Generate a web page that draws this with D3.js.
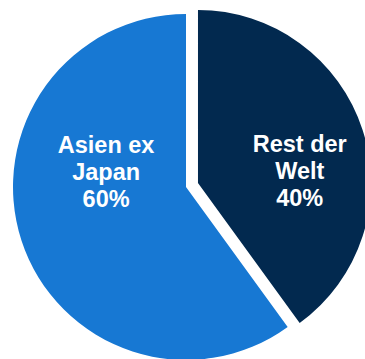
<!DOCTYPE html>
<html>
<head>
<meta charset="utf-8">
<script src="https://cdn.jsdelivr.net/npm/d3@7/dist/d3.min.js"></script>
<style>
  html, body { margin: 0; padding: 0; background: #ffffff; }
  svg { display: block; }
</style>
</head>
<body>
<script>
// Regional split, in percent
const categories = ["Rest der Welt", "Asien ex Japan"];
const shares = [40, 60];
const labelLines = [["Rest der", "Welt", "40%"], ["Asien ex", "Japan", "60%"]];
const colors = ["#02294f", "#1778d3"];

const width = 365, height = 359;
const cx = 186, cy = 187, radius = 173;
const explode = 12.6;          // pull-out distance of the first slice
const labelRadius = [107, 84]; // distance of each label from its slice centre
const fontSize = 23.5, lineHeight = 27;

const svg = d3.select("body").append("svg")
  .attr("width", width)
  .attr("height", height);

const pie = d3.pie().sort(null).value(d => d)
  .startAngle(0).endAngle(2 * Math.PI);
const arcs = pie(shares);

const arc = d3.arc().innerRadius(0).outerRadius(radius);

const g = svg.append("g").attr("transform", `translate(${cx},${cy})`);

const slice = g.selectAll("g.slice")
  .data(arcs)
  .join("g")
  .attr("class", "slice")
  .attr("transform", (d, i) => {
    if (i !== 0) return null;
    const mid = (d.startAngle + d.endAngle) / 2;
    return `translate(${Math.sin(mid) * explode},${-Math.cos(mid) * explode})`;
  });

slice.append("path")
  .attr("d", arc)
  .attr("fill", (d, i) => colors[i]);

slice.append("text")
  .attr("text-anchor", "middle")
  .attr("fill", "#ffffff")
  .attr("font-family", "'Liberation Sans', Arial, sans-serif")
  .attr("font-weight", "bold")
  .attr("font-size", fontSize)
  .each(function (d, i) {
    const mid = (d.startAngle + d.endAngle) / 2;
    const x = Math.sin(mid) * labelRadius[i];
    const lines = labelLines[i];
    const baseMid = i === 0 ? -4 : -7;
    d3.select(this).selectAll("tspan")
      .data(lines)
      .join("tspan")
      .attr("x", x)
      .attr("y", (t, k) => baseMid + (k - 1) * lineHeight)
      .text(t => t);
  });
</script>
</body>
</html>
